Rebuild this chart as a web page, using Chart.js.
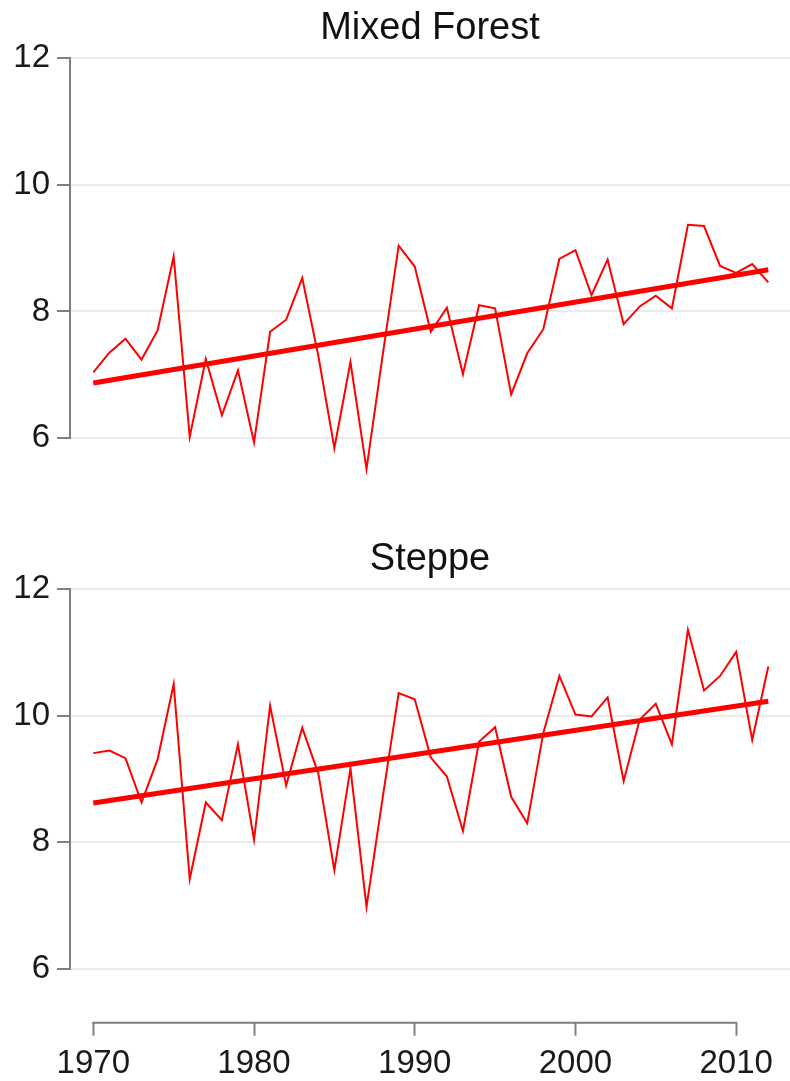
<!doctype html>
<html>
  <head>
    <meta charset="utf-8" />
    <title>Mixed Forest / Steppe</title>
    <script src="https://cdn.jsdelivr.net/npm/chart.js"></script>
    <style>
      html, body { margin: 0; padding: 0; background: #fff; }
      .panel { position: absolute; left: 0; }
      #top { top: 0; }
      #bottom { top: 531px; }
    </style>
  </head>
  <body>
    <div class="panel" id="top"><canvas id="forest" width="790" height="490"></canvas></div>
    <div class="panel" id="bottom"><canvas id="steppe" width="790" height="550"></canvas></div>
    <script type="text/javascript">
      // values
      const years = [
        1970, 1971, 1972, 1973, 1974, 1975, 1976, 1977, 1978, 1979,
        1980, 1981, 1982, 1983, 1984, 1985, 1986, 1987, 1988, 1989,
        1990, 1991, 1992, 1993, 1994, 1995, 1996, 1997, 1998, 1999,
        2000, 2001, 2002, 2003, 2004, 2005, 2006, 2007, 2008, 2009,
        2010, 2011, 2012,
      ];
      const mixedForest = [
        7.04, 7.35, 7.57, 7.24, 7.70, 8.87, 6.02, 7.25, 6.36, 7.07,
        5.93, 7.68, 7.87, 8.53, 7.30, 5.84, 7.20, 5.51, 7.30, 9.04,
        8.71, 7.68, 8.06, 7.01, 8.10, 8.05, 6.69, 7.34, 7.72, 8.83,
        8.97, 8.26, 8.82, 7.80, 8.08, 8.25, 8.05, 9.37, 9.35, 8.72,
        8.61, 8.75, 8.46,
      ];
      const steppe = [
        9.41, 9.45, 9.33, 8.63, 9.31, 10.50, 7.42, 8.63, 8.35, 9.55,
        8.04, 10.16, 8.90, 9.81, 9.09, 7.56, 9.17, 6.98, 8.70, 10.36,
        10.26, 9.34, 9.04, 8.18, 9.59, 9.82, 8.72, 8.30, 9.73, 10.63,
        10.02, 9.99, 10.29, 8.97, 9.94, 10.19, 9.55, 11.36, 10.40, 10.63,
        11.01, 9.62, 10.78,
      ];
      const trendYears = [1970, 2012];
      const trendForest = [6.87, 8.66];
      const trendSteppe = [8.62, 10.23];
      const xTicks = [1970, 1980, 1990, 2000, 2010];
      const yTicks = [6, 8, 10, 12];

      const red = "#ff0000";
      const axisColor = "#7f7f7f";
      const gridColor = "#ebebeb";
      const textColor = "#1a1a1a";

      Chart.defaults.font.family = "'Liberation Sans', Arial, Helvetica, sans-serif";
      Chart.defaults.color = textColor;

      // R style axes: the lines only run from the first to the last tick
      const axisLines = {
        id: "axisLines",
        beforeDatasetsDraw(chart, args, opts) {
          const { ctx, chartArea, scales } = chart;
          ctx.save();
          ctx.strokeStyle = axisColor;
          ctx.lineWidth = 2;
          ctx.beginPath();
          ctx.moveTo(chartArea.left, scales.y.getPixelForValue(yTicks[0]) + 1);
          ctx.lineTo(chartArea.left, scales.y.getPixelForValue(yTicks[yTicks.length - 1]) - 1);
          if (opts.xAxis) {
            const yb = chartArea.bottom;
            ctx.moveTo(scales.x.getPixelForValue(xTicks[0]) - 1, yb);
            ctx.lineTo(scales.x.getPixelForValue(xTicks[xTicks.length - 1]) + 1, yb);
          }
          ctx.stroke();
          ctx.restore();
        },
      };

      function makeChart(id, title, values, trend, yMin, showX) {
        const series = years.map((yr, i) => ({ x: yr, y: values[i] }));
        const line = trendYears.map((yr, i) => ({ x: yr, y: trend[i] }));
        return new Chart(document.getElementById(id), {
          type: "line",
          data: {
            datasets: [
              { data: line, borderColor: red, borderWidth: 5, pointRadius: 0, order: 0 },
              { data: series, borderColor: red, borderWidth: 2, pointRadius: 0, order: 1 },
            ],
          },
          plugins: [axisLines],
          options: {
            responsive: false,
            animation: false,
            layout: { padding: 0 },
            plugins: {
              legend: { display: false },
              tooltip: { enabled: false },
              axisLines: { xAxis: showX },
              title: {
                display: true,
                text: title,
                fullSize: false,
                color: "#111",
                font: { size: 38, weight: "normal", lineHeight: 1.2 },
                padding: { top: 6, bottom: 6.7 },
              },
            },
            scales: {
              x: {
                type: "linear",
                display: showX,
                min: 1968.55,
                max: 2013.35,
                afterBuildTicks: (s) => { s.ticks = xTicks.map((v) => ({ value: v })); },
                afterFit: (s) => { if (showX) s.height = 58.3; },
                border: { display: false },
                grid: { drawOnChartArea: false, drawTicks: true, tickLength: 13, tickColor: axisColor, tickWidth: 2 },
                ticks: { font: { size: 33 }, padding: 8, maxRotation: 0, color: textColor, callback: (v) => String(v) },
              },
              y: {
                min: yMin,
                max: 12,
                afterBuildTicks: (s) => { s.ticks = yTicks.map((v) => ({ value: v })); },
                afterFit: (s) => { s.width = 70; s.paddingTop = 0; s.paddingBottom = 0; },
                border: { display: false },
                grid: { color: gridColor, lineWidth: 2, tickLength: 13, tickColor: axisColor, tickWidth: 2 },
                ticks: { font: { size: 33 }, padding: 7, color: textColor },
              },
            },
          },
        });
      }

      makeChart("forest", "Mixed Forest", mixedForest, trendForest, 5.18, false);
      makeChart("steppe", "Steppe", steppe, trendSteppe, 5.148, true);
    </script>
  </body>
</html>
